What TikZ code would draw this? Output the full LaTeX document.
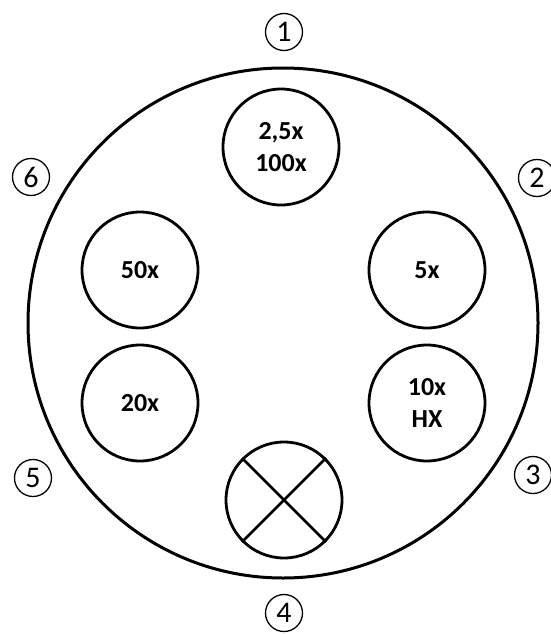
\documentclass[tikz,border=0pt]{standalone}
\usepackage{fontspec}
\setmainfont{Carlito}
\begin{document}
\begin{tikzpicture}[x=1pt,y=-1pt,
  lens/.style={circle, draw, line width=2.8pt, minimum size=116pt, inner sep=0pt, align=center,
    font=\fontsize{26}{32}\selectfont\bfseries},
  posn/.style={circle, draw, line width=1.3pt, minimum size=37pt, inner sep=0pt,
    font=\fontsize{30}{30}\selectfont}]
\clip (0,0) rectangle (551,634);
\node[circle, draw, line width=3pt, minimum size=510pt, inner sep=0pt] (turret) at (283,323) {};
\node[lens] (l1) at (281,147) {2,5x\\100x};
\node[lens] (l2) at (427,270) {5x};
\node[lens] (l3) at (427,403) {10x\\HX};
\node[lens] (l6) at (140,270) {50x};
\node[lens] (l5) at (140,403) {20x};
\node[lens] (l4) at (284,500) {};
\draw[line width=2.8pt] (l4.45) -- (l4.225);
\draw[line width=2.8pt] (l4.135) -- (l4.315);
\node[posn] (p1) at (284,32) {1};
\node[posn] (p2) at (537,178) {2};
\node[posn] (p3) at (533,475) {3};
\node[posn] (p4) at (284,613) {4};
\node[posn] (p5) at (33,478) {5};
\node[posn] (p6) at (31,177) {6};
\end{tikzpicture}
\end{document}
